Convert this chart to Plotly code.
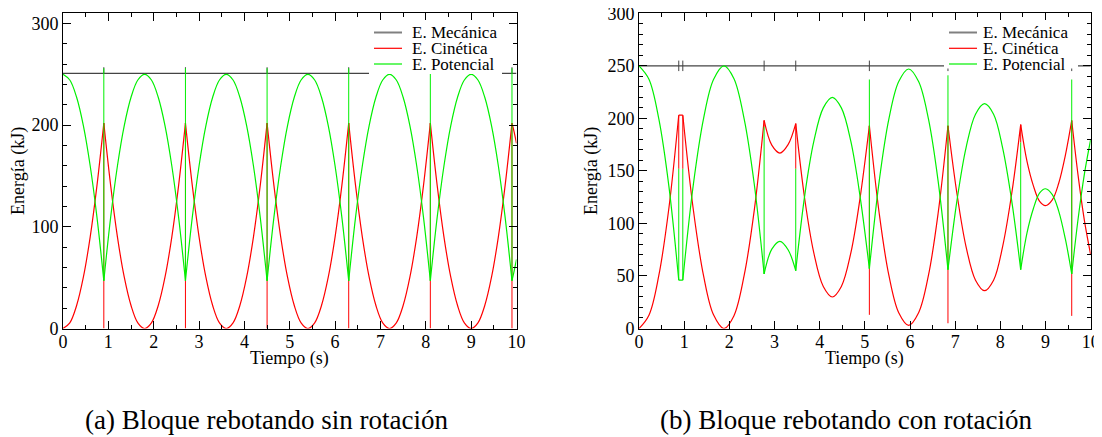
import plotly.graph_objects as go

# page body adds an 8px margin, so the figure is sized to fit the 1102x437 window
OFF = 8
W, H = 1102 - OFF, 437 - OFF
FONT = "Liberation Serif"

# ---------------- (a) Bloque rebotando sin rotación ----------------
a_time = [0, 0.15, 0.3, 0.45, 0.6, 0.75, 0.9, None,
          0.9, 1.05, 1.2, 1.35, 1.5, 1.65, 1.8, 1.95, 2.1, 2.25, 2.4, 2.55, 2.7, None,
          2.7, 2.85, 3.0, 3.15, 3.3, 3.45, 3.6, 3.75, 3.9, 4.05, 4.2, 4.35, 4.5, None,
          4.5, 4.65, 4.8, 4.95, 5.1, 5.25, 5.4, 5.55, 5.7, 5.85, 6.0, 6.15, 6.3, None,
          6.3, 6.45, 6.6, 6.75, 6.9, 7.05, 7.2, 7.35, 7.5, 7.65, 7.8, 7.95, 8.1, None,
          8.1, 8.25, 8.4, 8.55, 8.7, 8.85, 9.0, 9.15, 9.3, 9.45, 9.6, 9.75, 9.9, None,
          9.9, 9.95, 10.0]
a_potencial = [250, 244.4, 227.4, 199.3, 159.8, 109, 47, None,
               47, 109, 159.8, 199.3, 227.4, 244.4, 250, 244.4, 227.4, 199.3, 159.8, 109, 47, None,
               47, 109, 159.8, 199.3, 227.4, 244.4, 250, 244.4, 227.4, 199.3, 159.8, 109, 47, None,
               47, 109, 159.8, 199.3, 227.4, 244.4, 250, 244.4, 227.4, 199.3, 159.8, 109, 47, None,
               47, 109, 159.8, 199.3, 227.4, 244.4, 250, 244.4, 227.4, 199.3, 159.8, 109, 47, None,
               47, 109, 159.8, 199.3, 227.4, 244.4, 250, 244.4, 227.4, 199.3, 159.8, 109, 47, None,
               47, 57, 68]
a_cinetica = [0, 5.6, 22.6, 50.7, 90.2, 141, 202, None,
              202, 141, 90.2, 50.7, 22.6, 5.6, 0, 5.6, 22.6, 50.7, 90.2, 141, 202, None,
              202, 141, 90.2, 50.7, 22.6, 5.6, 0, 5.6, 22.6, 50.7, 90.2, 141, 202, None,
              202, 141, 90.2, 50.7, 22.6, 5.6, 0, 5.6, 22.6, 50.7, 90.2, 141, 202, None,
              202, 141, 90.2, 50.7, 22.6, 5.6, 0, 5.6, 22.6, 50.7, 90.2, 141, 202, None,
              202, 141, 90.2, 50.7, 22.6, 5.6, 0, 5.6, 22.6, 50.7, 90.2, 141, 202, None,
              202, 193, 182]
a_mec_time = [0, 10]
a_mecanica = [251, 251]
# collision instants and the spikes recorded there
a_hit_time = [0.9, 2.7, 4.5, 6.3, 8.1, 9.9]
a_pot_spike_lo = [47, 47, 47, 47, 47, 47]
a_pot_spike_hi = [256, 256, 256, 256, 256, 256]
a_cin_spike_lo = [0, 0, 0, 0, 0, 0]
a_cin_spike_hi = [202, 202, 202, 202, 202, 202]
a_mec_spike_lo = [251, 251, 251, 251, 251, 251]
a_mec_spike_hi = [257, 257, 257, 257, 257, 257]

# ---------------- (b) Bloque rebotando con rotación ----------------
b_time = [0, 0.22, 0.44, 0.66, 0.88, None,
          0.88, 0.97, None,
          0.97, 1.2, 1.43, 1.65, 1.88, 2.1, 2.33, 2.55, 2.77, None,
          2.77, 2.94, 3.12, 3.3, 3.47, None,
          3.47, 3.67, 3.87, 4.08, 4.28, 4.48, 4.69, 4.89, 5.1, None,
          5.1, 5.32, 5.53, 5.75, 5.97, 6.19, 6.41, 6.62, 6.84, None,
          6.84, 7.04, 7.24, 7.45, 7.65, 7.85, 8.05, 8.25, 8.45, None,
          8.45, 8.59, 8.73, 8.87, 9.0, 9.15, 9.29, 9.44, 9.58, None,
          9.58, 9.72, 9.86, 10.0]
b_potencial = [250, 237.3, 199.3, 136, 46, None,
               46, 46, None,
               46, 136, 200, 237, 250, 238, 199, 138, 52, None,
               52, 75.5, 83, 75, 55, None,
               55, 127, 178, 210, 220, 210, 178, 127, 57, None,
               57, 141, 199, 235, 247, 235, 199, 141, 56, None,
               56, 122, 172, 204, 214, 204, 172, 122, 56, None,
               56, 91, 114, 129, 133, 127.5, 112, 85, 52, None,
               52, 104, 147, 180]
b_cinetica = [0, 12.7, 50.7, 114, 203, None,
              203, 203, None,
              203, 114, 50, 13, 0, 12, 51, 112, 198, None,
              198, 174.5, 167, 175, 195, None,
              195, 123, 72, 40, 30, 40, 72, 123, 193, None,
              193, 109, 51, 15, 3, 15, 51, 109, 193, None,
              193, 128, 78, 46, 36, 46, 78, 128, 194, None,
              194, 159, 136, 121, 117, 122.5, 138, 165, 198, None,
              198, 146, 103, 70]
b_mec_time = [0, 10]
b_mecanica = [250, 250]
b_hit_time = [0.88, 0.97, 2.77, 3.47, 5.1, 6.84, 8.45, 9.58]
b_pot_spike_lo = [46, 46, 52, 55, 57, 56, 56, 52]
b_pot_spike_hi = [152, 152, 192, 152, 237, 241, 177, 237]
b_cin_spike_lo = [152, 152, 192, 152, 13, 5, 177, 12]
b_cin_spike_hi = [203, 203, 198, 195, 193, 193, 194, 198]
b_mec_spike_lo = [245, 245, 245, 245, 245, 245, 245, 245]
b_mec_spike_hi = [255, 255, 255, 255, 255, 255, 255, 255]

series_names = ["E. Mecánica", "E. Cinética", "E. Potencial"]
series_colors = ["#444444", "#ff0000", "#00f000"]
legend_sample_colors = ["#808080", "#ff0000", "#00f000"]
x_title = "Tiempo (s)"
y_title = "Energía (kJ)"
captions = ["(a) Bloque rebotando sin rotación", "(b) Bloque rebotando con rotación"]


def spikes(times, lo, hi):
    xs, ys = [], []
    for t, a, b in zip(times, lo, hi):
        xs += [t, t, None]
        ys += [a, b, None]
    return xs, ys


fig = go.Figure()

panels = [
    dict(xa="x", ya="y", t=a_time, pot=a_potencial, cin=a_cinetica,
         mt=a_mec_time, mec=a_mecanica, hit=a_hit_time,
         ps=(a_pot_spike_lo, a_pot_spike_hi), cs=(a_cin_spike_lo, a_cin_spike_hi),
         ms=(a_mec_spike_lo, a_mec_spike_hi)),
    dict(xa="x2", ya="y2", t=b_time, pot=b_potencial, cin=b_cinetica,
         mt=b_mec_time, mec=b_mecanica, hit=b_hit_time,
         ps=(b_pot_spike_lo, b_pot_spike_hi), cs=(b_cin_spike_lo, b_cin_spike_hi),
         ms=(b_mec_spike_lo, b_mec_spike_hi)),
]

for p in panels:
    common = dict(xaxis=p["xa"], yaxis=p["ya"], showlegend=False, hoverinfo="skip")
    # mechanical energy
    fig.add_trace(go.Scatter(x=p["mt"], y=p["mec"], mode="lines", name=series_names[0],
                             line=dict(color=series_colors[0], width=1.3), **common))
    sx, sy = spikes(p["hit"], *p["ms"])
    fig.add_trace(go.Scatter(x=sx, y=sy, mode="lines", line=dict(color=series_colors[0], width=1), **common))
    # kinetic energy
    fig.add_trace(go.Scatter(x=p["t"], y=p["cin"], mode="lines", name=series_names[1],
                             line=dict(color=series_colors[1], width=1.2, shape="spline", smoothing=1), **common))
    sx, sy = spikes(p["hit"], *p["cs"])
    fig.add_trace(go.Scatter(x=sx, y=sy, mode="lines", line=dict(color=series_colors[1], width=1), **common))
    # potential energy
    fig.add_trace(go.Scatter(x=p["t"], y=p["pot"], mode="lines", name=series_names[2],
                             line=dict(color=series_colors[2], width=1.2, shape="spline", smoothing=1), **common))
    sx, sy = spikes(p["hit"], *p["ps"])
    fig.add_trace(go.Scatter(x=sx, y=sy, mode="lines", line=dict(color=series_colors[2], width=1), **common))


def px(sx):
    """screen pixel x -> paper fraction"""
    return (sx - OFF) / W


def py(sy):
    """screen pixel y -> paper fraction"""
    return 1 - (sy - OFF) / H


axis_common = dict(showline=True, linecolor="black", linewidth=1, mirror="ticks",
                   ticks="inside", ticklen=8, tickwidth=1, tickcolor="black",
                   showgrid=False, zeroline=False, automargin=False,
                   ticklabeloverflow="allow",
                   tickfont=dict(family=FONT, size=18, color="black"))

fig.update_layout(
    width=W, height=H,
    margin=dict(l=0, r=0, t=0, b=0, autoexpand=False),
    paper_bgcolor="white", plot_bgcolor="white",
    showlegend=False,
    xaxis=dict(domain=[px(63), px(516.5)], range=[0, 10], dtick=1, anchor="y", ticklabelstandoff=-3,
               minor=dict(dtick=0.5, ticks="inside", ticklen=4, tickcolor="black"), **axis_common),
    yaxis=dict(domain=[py(328.5), py(13.3)], range=[0, 310], dtick=100, anchor="x",
               minor=dict(dtick=20, ticks="inside", ticklen=4, tickcolor="black"), **axis_common),
    xaxis2=dict(domain=[px(639), px(1090.7)], range=[0, 10], dtick=1, anchor="y2", ticklabelstandoff=-3,
                minor=dict(dtick=0.5, ticks="inside", ticklen=4, tickcolor="black"), **axis_common),
    yaxis2=dict(domain=[py(328.5), py(13.3)], range=[0, 300], dtick=50, anchor="x2",
                minor=dict(dtick=10, ticks="inside", ticklen=4, tickcolor="black"), **axis_common),
)

shapes = []
annotations = []

# manual legends (white box, sample lines, labels)
legend_boxes = [(369, 502, 20, 74), (944, 1078, 20, 68.5)]
legend_line_x = [(374, 402), (949, 977)]
legend_text_x = [410, 981]
legend_rows = [32.5, 48.3, 64]
for (bx0, bx1, by0, by1), (lx0, lx1), tx in zip(legend_boxes, legend_line_x, legend_text_x):
    shapes.append(dict(type="rect", xref="paper", yref="paper", layer="above",
                       x0=px(bx0), x1=px(bx1), y0=py(by1), y1=py(by0),
                       fillcolor="white", line=dict(width=0)))
    for i, (name, color, ry) in enumerate(zip(series_names, legend_sample_colors, legend_rows)):
        shapes.append(dict(type="line", xref="paper", yref="paper", layer="above",
                           x0=px(lx0), x1=px(lx1), y0=py(ry), y1=py(ry),
                           line=dict(color=color, width=2 if i == 0 else 1.2)))
        annotations.append(dict(text=name, xref="paper", yref="paper", x=px(tx), y=py(ry),
                                xanchor="left", yanchor="middle", showarrow=False,
                                font=dict(family=FONT, size=17, color="black")))

# axis titles
for cx in [289.8, 864.9]:
    annotations.append(dict(text=x_title, xref="paper", yref="paper", x=px(cx), y=py(358),
                            xanchor="center", yanchor="middle", showarrow=False,
                            font=dict(family=FONT, size=18, color="black")))
for cx in [18, 591]:
    annotations.append(dict(text=y_title, xref="paper", yref="paper", x=px(cx), y=py(171),
                            xanchor="center", yanchor="middle", showarrow=False, textangle=-90,
                            font=dict(family=FONT, size=18, color="black")))
# captions
for cx, cap in zip([266, 846], captions):
    annotations.append(dict(text=cap, xref="paper", yref="paper", x=px(cx), y=py(420),
                            xanchor="center", yanchor="middle", showarrow=False,
                            font=dict(family=FONT, size=27, color="black")))

fig.update_layout(shapes=shapes, annotations=annotations)
fig.write_html("out.html")
